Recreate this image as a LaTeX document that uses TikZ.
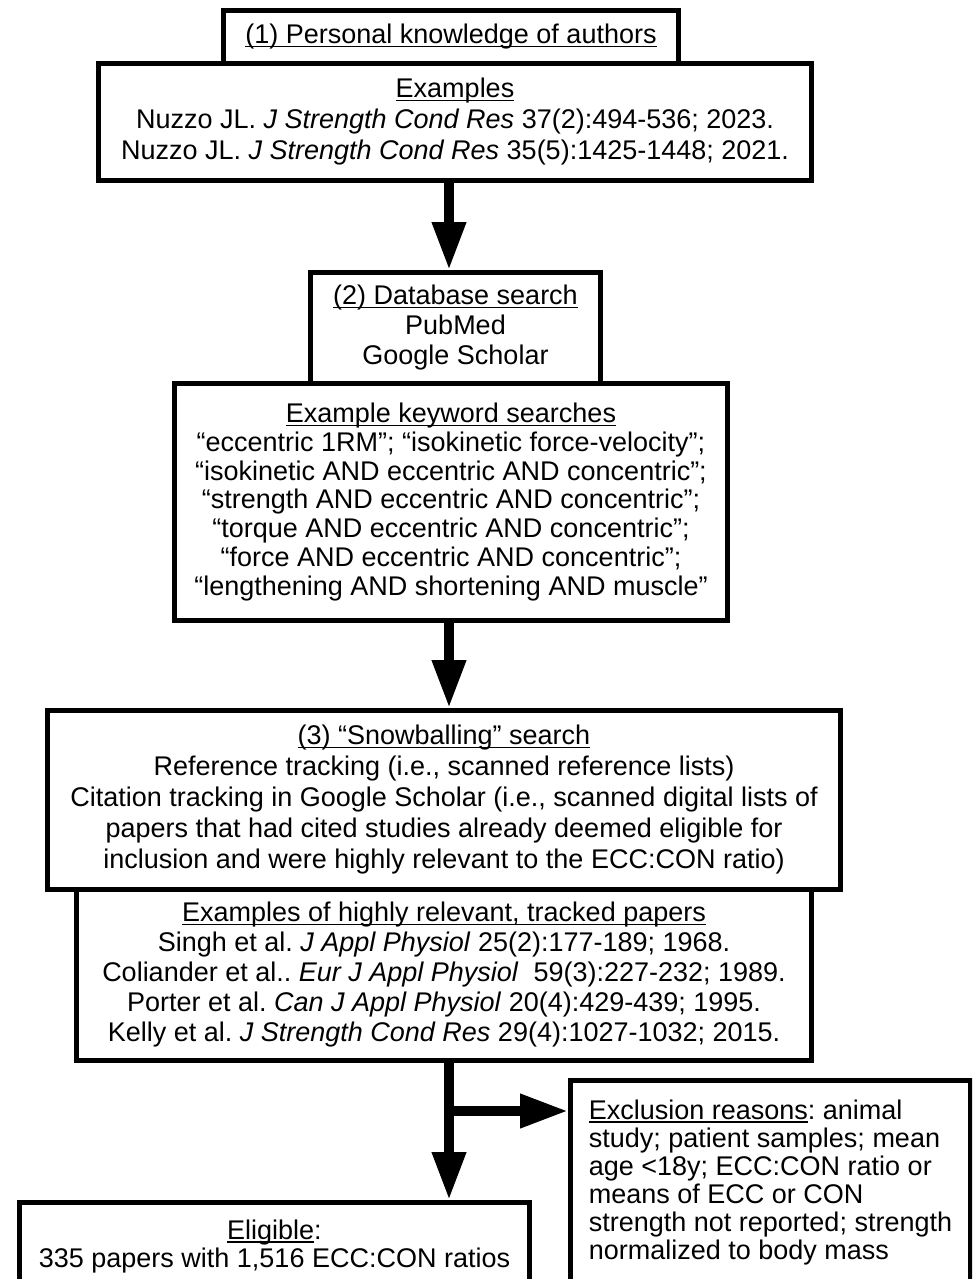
\documentclass[tikz,border=0pt]{standalone}
\usepackage{fontspec}
\setmainfont{Liberation Sans}
\frenchspacing
\newcommand\myul[1]{\setbox0\hbox{#1}\rlap{\rule[-3.5pt]{\wd0}{1.8pt}}\box0}
\usetikzlibrary{arrows.meta,calc}
\begin{document}
\begin{tikzpicture}[x=1pt,y=-1pt,
  box/.style={draw,line width=5pt,fill=white,anchor=north west,inner sep=0pt,align=center,font=\fontsize{27}{30}\selectfont},
  arr/.style={line width=10pt,-{Triangle[length=48pt,width=32pt]}}]
\clip (0,0) rectangle (972,1279);
\fill[white] (0,0) rectangle (972,1279);
\coordinate (ax) at (449,0);
% box 1
\node[box,minimum width=455pt,minimum height=53pt] (t1) at (221,8) {\myul{(1) Personal knowledge of authors}};
\node[box,minimum width=713pt,minimum height=117pt,font=\fontsize{27}{31}\selectfont] (b1) at (96,61)
  {\myul{Examples}\\
   Nuzzo JL. \textit{J Strength Cond Res} 37(2):494-536; 2023.\\
   Nuzzo JL. \textit{J Strength Cond Res} 35(5):1425-1448; 2021.};
% box 2
\node[box,minimum width=290pt,minimum height=111pt] (t2) at (308,270)
  {\myul{(2) Database search}\\PubMed\\Google Scholar};
\node[box,minimum width=553pt,minimum height=237pt,font=\fontsize{27}{28.7}\selectfont] (b2) at (172,381)
  {\myul{Example keyword searches}\\
   “eccentric 1RM”; “isokinetic force-velocity”;\\
   “isokinetic AND eccentric AND concentric”;\\
   “strength AND eccentric AND concentric”;\\
   “torque AND eccentric AND concentric”;\\
   “force AND eccentric AND concentric”;\\
   “lengthening AND shortening AND muscle”};
% box 3
\node[box,minimum width=793pt,minimum height=179pt,font=\fontsize{27}{31}\selectfont] (b3) at (45,708)
  {\myul{(3) “Snowballing” search}\\
   Reference tracking (i.e., scanned reference lists)\\
   Citation tracking in Google Scholar (i.e., scanned digital lists of\\
   papers that had cited studies already deemed eligible for\\
   inclusion and were highly relevant to the ECC:CON ratio)};
\node[box,minimum width=735pt,minimum height=171pt] (b3b) at (74,887)
  {\myul{Examples of highly relevant, tracked papers}\\
   Singh et al. \textit{J Appl Physiol} 25(2):177-189; 1968.\\
   Coliander et al.. \textit{Eur J Appl Physiol}\ \ 59(3):227-232; 1989.\\
   Porter et al. \textit{Can J Appl Physiol} 20(4):429-439; 1995.\\
   Kelly et al. \textit{J Strength Cond Res} 29(4):1027-1032; 2015.};
% bottom
\node[box,minimum width=510pt,minimum height=88pt,font=\fontsize{27}{28}\selectfont] (el) at (17,1200)
  {\myul{Eligible}:\\335 papers with 1,516 ECC:CON ratios};
\node[box,minimum width=400pt,minimum height=204pt,align=left,font=\fontsize{27}{28}\selectfont] (ex) at (568,1078)
  {\myul{Exclusion reasons}: animal\\
   study; patient samples; mean\\
   age <18y; ECC:CON ratio or\\
   means of ECC or CON\\
   strength not reported; strength\\
   normalized to body mass};
% arrows
\draw[arr] (b1.south -| ax) -- (t2.north -| ax);
\draw[arr] (b2.south -| ax) -- (b3.north -| ax);
\coordinate (br) at (449,1111);
\draw[arr] (b3b.south -| ax) -- (el.north -| ax);
\draw[arr] (br) -- (br -| ex.west);
\end{tikzpicture}
\end{document}
